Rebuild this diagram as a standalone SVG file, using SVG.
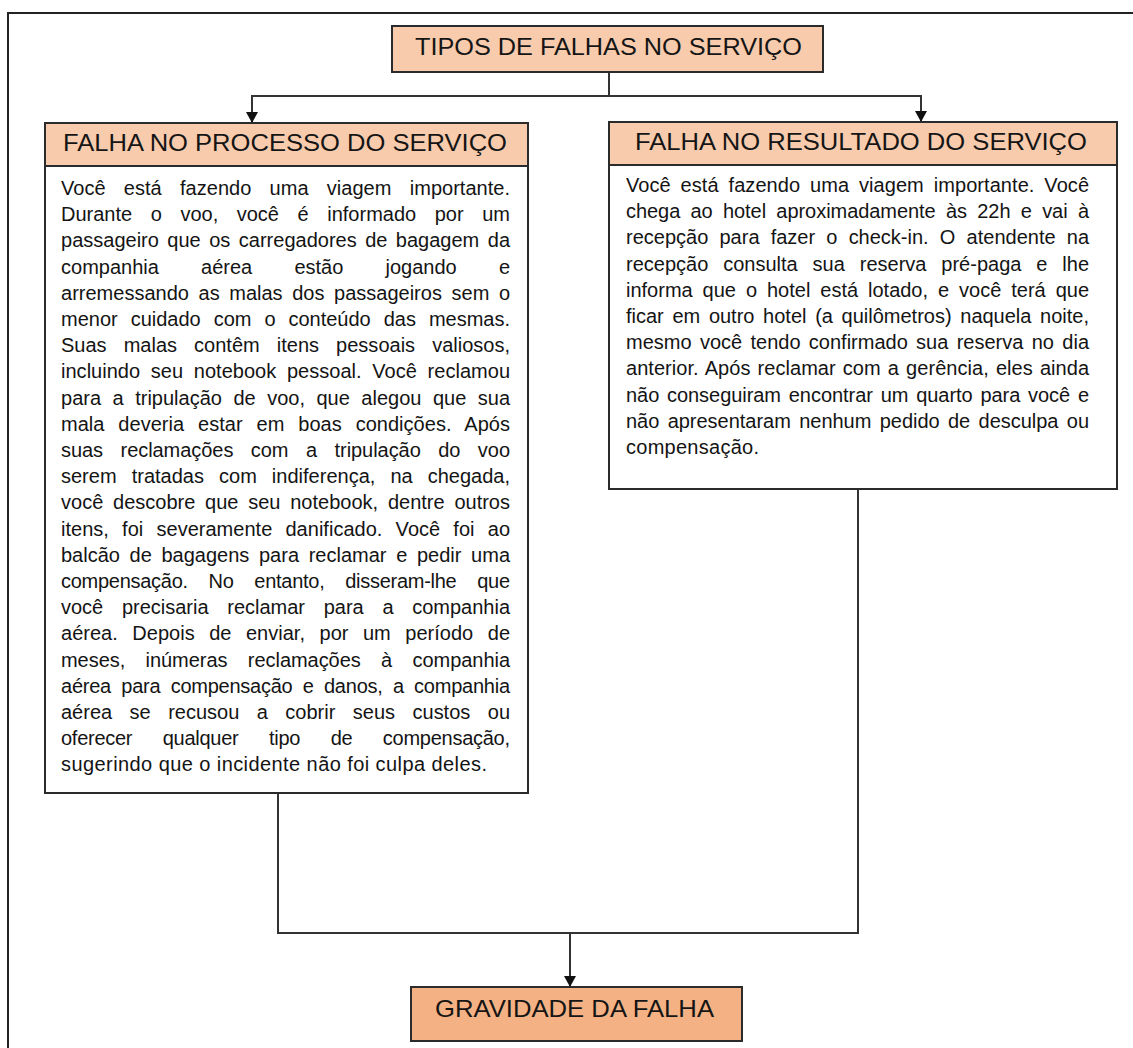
<svg xmlns="http://www.w3.org/2000/svg" width="1133" height="1048" viewBox="0 0 1133 1048">
  <style>
    .frame { fill: none; stroke: #222; stroke-width: 2; }
    .head { fill: #F8CBAD; stroke: #2b2b2b; stroke-width: 2; }
    .sev { fill: #F4B183; stroke: #2b2b2b; stroke-width: 2; }
    .card { fill: #fff; stroke: #2b2b2b; stroke-width: 2; }
    .title { font-family: "Liberation Sans", Arial, sans-serif; font-size: 24px; fill: #151515; }
    .body { font-family: "Liberation Sans", Arial, sans-serif; font-size: 20px; fill: #141414; }
    .link { fill: none; stroke: #333; stroke-width: 2; }
  </style>
  <defs>
    <marker id="arrow" markerUnits="userSpaceOnUse" markerWidth="11" markerHeight="12" refX="11" refY="6" orient="auto">
      <path d="M0,0 L11,6 L0,12 Z" fill="#111"/>
    </marker>
  </defs>

  <rect width="1133" height="1048" fill="#fff"/>
  <!-- page border (top and left edges) -->
  <path class="frame" d="M8,1048 V13 H1133"/>

  <!-- connectors -->
  <g id="connectors">
    <path class="link" d="M609,72 V96 H252 V123" marker-end="url(#arrow)"/>
    <path class="link" d="M609,96 H921 V122" marker-end="url(#arrow)"/>
    <path class="link" d="M278,793 V933 H858 V489"/>
    <path class="link" d="M570,933 V987" marker-end="url(#arrow)"/>
  </g>

  <!-- root -->
  <g id="tipos">
    <rect class="head" x="392" y="26" width="431" height="46"/>
    <text class="title" x="415" y="55" textLength="387" lengthAdjust="spacingAndGlyphs">TIPOS DE FALHAS NO SERVIÇO</text>
  </g>

  <!-- process failure -->
  <g id="processo">
    <rect class="card" x="45" y="166" width="483" height="627"/>
    <rect class="head" x="45" y="123" width="483" height="43"/>
    <text class="title" x="63" y="150.5" textLength="444" lengthAdjust="spacingAndGlyphs">FALHA NO PROCESSO DO SERVIÇO</text>
    <g class="body">
      <text x="61" y="195" textLength="449" word-spacing="12.7">Você está fazendo uma viagem importante.</text>
      <text x="61" y="221.2" textLength="449" word-spacing="13">Durante o voo, você é informado por um</text>
      <text x="61" y="247.4" textLength="449" word-spacing="2.9">passageiro que os carregadores de bagagem da</text>
      <text x="61" y="273.6" textLength="449" word-spacing="36.6">companhia aérea estão jogando e</text>
      <text x="61" y="299.8" textLength="449" word-spacing="4">arremessando as malas dos passageiros sem o</text>
      <text x="61" y="326" textLength="449" word-spacing="7.4">menor cuidado com o conteúdo das mesmas.</text>
      <text x="61" y="352.2" textLength="449" word-spacing="11.5">Suas malas contêm itens pessoais valiosos,</text>
      <text x="61" y="378.4" textLength="449" word-spacing="5.1">incluindo seu notebook pessoal. Você reclamou</text>
      <text x="61" y="404.6" textLength="449" word-spacing="5.9">para a tripulação de voo, que alegou que sua</text>
      <text x="61" y="430.8" textLength="449" word-spacing="8.3">mala deveria estar em boas condições. Após</text>
      <text x="61" y="457" textLength="449" word-spacing="12">suas reclamações com a tripulação do voo</text>
      <text x="61" y="483.2" textLength="449" word-spacing="9.5">serem tratadas com indiferença, na chegada,</text>
      <text x="61" y="509.4" textLength="449" word-spacing="4.2">você descobre que seu notebook, dentre outros</text>
      <text x="61" y="535.6" textLength="449" word-spacing="7.6">itens, foi severamente danificado. Você foi ao</text>
      <text x="61" y="561.8" textLength="449" word-spacing="4.1">balcão de bagagens para reclamar e pedir uma</text>
      <text x="61" y="588" textLength="449" word-spacing="15.5">compensação. No entanto, disseram-lhe que</text>
      <text x="61" y="614.2" textLength="449" word-spacing="13.1">você precisaria reclamar para a companhia</text>
      <text x="61" y="640.4" textLength="449" word-spacing="8.9">aérea. Depois de enviar, por um período de</text>
      <text x="61" y="666.6" textLength="449" word-spacing="14.9">meses, inúmeras reclamações à companhia</text>
      <text x="61" y="692.8" textLength="449" word-spacing="5">aérea para compensação e danos, a companhia</text>
      <text x="61" y="719" textLength="449" word-spacing="11.9">aérea se recusou a cobrir seus custos ou</text>
      <text x="61" y="745.2" textLength="449" word-spacing="25.2">oferecer qualquer tipo de compensação,</text>
      <text x="61" y="771.4" textLength="426">sugerindo que o incidente não foi culpa deles.</text>
    </g>
  </g>

  <!-- outcome failure -->
  <g id="resultado">
    <rect class="card" x="609" y="165" width="508" height="324"/>
    <rect class="head" x="609" y="122" width="508" height="43"/>
    <text class="title" x="635" y="149.5" textLength="452" lengthAdjust="spacingAndGlyphs">FALHA NO RESULTADO DO SERVIÇO</text>
    <g class="body">
      <text x="626" y="192" textLength="463" word-spacing="4.3">Você está fazendo uma viagem importante. Você</text>
      <text x="626" y="218.2" textLength="463" word-spacing="4.8">chega ao hotel aproximadamente às 22h e vai à</text>
      <text x="626" y="244.4" textLength="463" word-spacing="5.6">recepção para fazer o check-in. O atendente na</text>
      <text x="626" y="270.6" textLength="463" word-spacing="9.3">recepção consulta sua reserva pré-paga e lhe</text>
      <text x="626" y="296.8" textLength="463" word-spacing="4.4">informa que o hotel está lotado, e você terá que</text>
      <text x="626" y="323" textLength="463" word-spacing="3.1">ficar em outro hotel (a quilômetros) naquela noite,</text>
      <text x="626" y="349.2" textLength="463" word-spacing="2.8">mesmo você tendo confirmado sua reserva no dia</text>
      <text x="626" y="375.4" textLength="463" word-spacing="1.5">anterior. Após reclamar com a gerência, eles ainda</text>
      <text x="626" y="401.6" textLength="463" word-spacing="2.3">não conseguiram encontrar um quarto para você e</text>
      <text x="626" y="427.8" textLength="463" word-spacing="2.8">não apresentaram nenhum pedido de desculpa ou</text>
      <text x="626" y="454" textLength="133">compensação.</text>
    </g>
  </g>

  <!-- severity -->
  <g id="gravidade">
    <rect class="sev" x="411" y="987" width="331" height="54"/>
    <text class="title" x="435" y="1017" textLength="279" lengthAdjust="spacingAndGlyphs">GRAVIDADE DA FALHA</text>
  </g>
</svg>
